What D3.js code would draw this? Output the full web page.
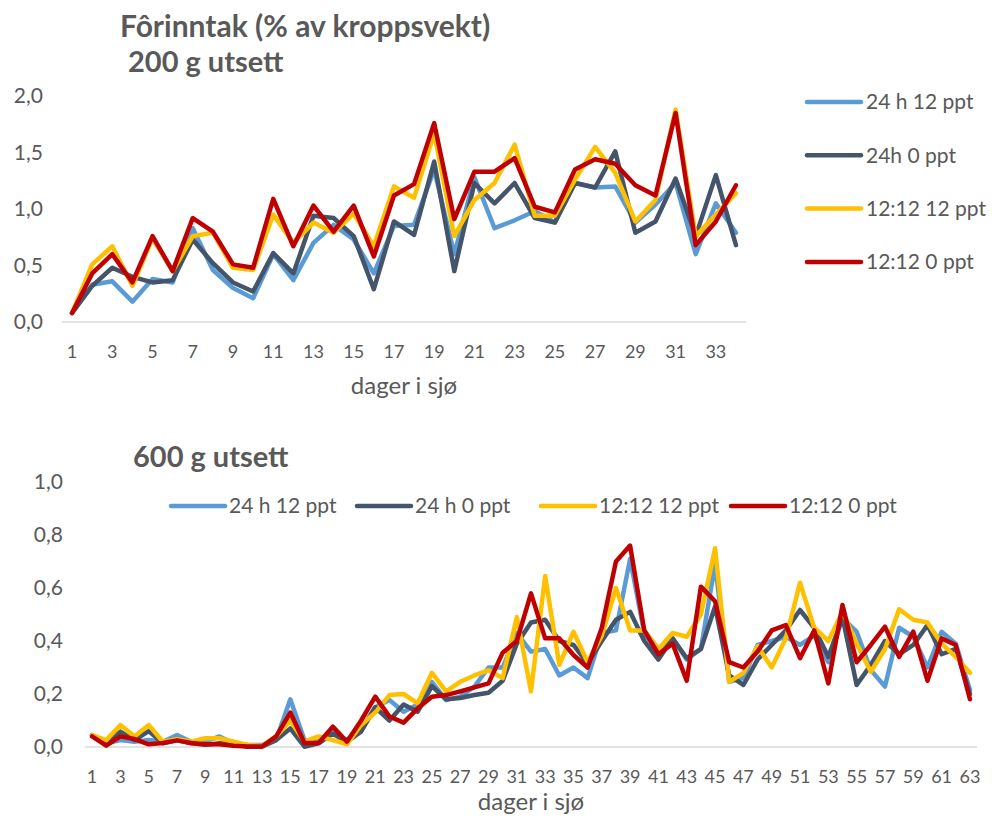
<!DOCTYPE html>
<html lang="no">
  <head>
    <meta charset="utf-8">
    <title>Fôrinntak</title>
    <script src="https://cdn.jsdelivr.net/npm/d3@7"></script>
    <style>
      body { margin: 0; background: #fff; }
      text { font-family: Lato, "Open Sans", sans-serif; fill: #595959; }
    </style>
  </head>
  <body>
    <script>

      // series names and colours
      var names = ["24 h 12 ppt", "24h 0 ppt", "12:12 12 ppt", "12:12 0 ppt"];
      var names600 = ["24 h 12 ppt", "24 h 0 ppt", "12:12 12 ppt", "12:12 0 ppt"];
      var colors = ["#5b9bd5", "#44546a", "#ffc000", "#c00000"];

      // 200 g utsett, days 1-34
      var blue200 = [0.08,0.33,0.36,0.18,0.38,0.35,0.83,0.46,0.30,0.21,0.60,0.37,0.70,0.86,0.73,0.43,0.85,
                     0.86,1.35,0.60,1.28,0.83,0.90,0.98,0.88,1.23,1.19,1.20,0.88,1.04,1.23,0.60,1.05,0.79];
      var dark200 = [0.08,0.32,0.48,0.40,0.35,0.37,0.73,0.52,0.35,0.27,0.61,0.43,0.94,0.92,0.76,0.29,0.89,
                     0.77,1.42,0.45,1.23,1.05,1.23,0.92,0.88,1.23,1.19,1.51,0.79,0.89,1.27,0.76,1.30,0.68];
      var yellow200 = [0.08,0.51,0.67,0.32,0.74,0.45,0.76,0.79,0.48,0.46,0.95,0.70,0.88,0.79,0.96,0.67,1.20,
                       1.10,1.67,0.76,1.08,1.23,1.57,0.94,0.94,1.26,1.55,1.32,0.89,1.08,1.88,0.76,0.95,1.14];
      var red200 = [0.08,0.43,0.60,0.35,0.76,0.45,0.92,0.80,0.51,0.48,1.09,0.67,1.03,0.80,1.03,0.58,1.12,
                    1.22,1.76,0.91,1.33,1.33,1.45,1.02,0.97,1.35,1.44,1.40,1.21,1.12,1.85,0.68,0.89,1.21];

      // 600 g utsett, days 1-63
      var blue600 = [0.045,0.014,0.026,0.02,0.026,0.02,0.045,0.02,0.02,0.04,0.014,0.008,0.008,0.026,0.18,0.026,0.02,0.058,0.026,0.07,
                     0.15,0.177,0.133,0.16,0.246,0.177,0.19,0.228,0.30,0.30,0.43,0.36,0.37,0.27,0.30,0.26,0.43,0.44,0.71,0.43,
                     0.35,0.41,0.33,0.37,0.69,0.246,0.26,0.385,0.40,0.416,0.385,0.42,0.32,0.486,0.435,0.29,0.228,0.45,0.416,0.30,
                     0.435,0.39,0.215];
      var dark600 = [0.045,0.014,0.058,0.026,0.06,0.014,0.026,0.014,0.008,0.014,0.011,0.001,0.001,0.026,0.07,0.001,0.014,0.05,0.02,0.058,
                     0.15,0.10,0.16,0.133,0.23,0.18,0.185,0.196,0.205,0.25,0.39,0.47,0.48,0.40,0.385,0.315,0.40,0.48,0.51,0.40,
                     0.33,0.41,0.335,0.37,0.53,0.27,0.234,0.33,0.385,0.44,0.517,0.45,0.34,0.49,0.234,0.31,0.40,0.35,0.385,0.46,
                     0.35,0.37,0.20];
      var yellow600 = [0.045,0.026,0.083,0.04,0.083,0.02,0.029,0.02,0.033,0.033,0.02,0.008,0.004,0.04,0.10,0.02,0.04,0.026,0.01,0.083,
                       0.13,0.196,0.20,0.165,0.28,0.21,0.246,0.27,0.29,0.26,0.49,0.21,0.645,0.31,0.435,0.32,0.42,0.60,0.44,0.44,
                       0.37,0.43,0.416,0.50,0.75,0.246,0.28,0.38,0.30,0.41,0.62,0.45,0.40,0.51,0.39,0.284,0.37,0.52,0.48,0.47,
                       0.39,0.34,0.28];
      var red600 = [0.04,0.005,0.04,0.03,0.01,0.015,0.025,0.015,0.01,0.01,0.005,0.002,0.002,0.04,0.13,0.015,0.015,0.077,0.02,0.10,
                    0.19,0.115,0.092,0.146,0.19,0.196,0.21,0.225,0.24,0.356,0.40,0.58,0.41,0.41,0.347,0.30,0.45,0.70,0.76,0.44,
                    0.35,0.39,0.25,0.605,0.55,0.32,0.30,0.36,0.44,0.46,0.335,0.44,0.24,0.536,0.32,0.385,0.454,0.34,0.435,0.25,
                    0.41,0.385,0.18];

      var ticks200 = [0, 0.5, 1.0, 1.5, 2.0];
      var ticks600 = [0, 0.2, 0.4, 0.6, 0.8, 1.0];

      var days200 = d3.range(1, 35);
      var days600 = d3.range(1, 64);

      var fmt = d3.formatLocale({decimal: ",", thousands: " ", grouping: [3], currency: ["", " kr"]}).format(".1f");

      var svg = d3.select("body").append("svg")
                  .attr("width", 992)
                  .attr("height", 820);

      function drawPanel(o) {
        var x = d3.scalePoint().domain(o.days).range([o.x0, o.x1]).padding(0.5);
        var y = d3.scaleLinear().domain([0, o.ymax]).range([o.yb, o.yt]);
        var g = svg.append("g");

        g.append("line")
          .attr("x1", o.x0).attr("x2", o.x1)
          .attr("y1", y(0)).attr("y2", y(0))
          .attr("stroke", "#d9d9d9").attr("stroke-width", 1.5);

        g.selectAll(".ytick").data(o.ticks).enter().append("text")
          .attr("x", o.ylabX)
          .attr("y", function(d) { return y(d); })
          .attr("dy", "0.35em")
          .attr("text-anchor", "end")
          .style("font-size", "21px")
          .text(function(d) { return fmt(d); });

        g.selectAll(".xtick").data(o.days.filter(function(d) { return d % 2 == 1; })).enter().append("text")
          .attr("x", function(d) { return x(d); })
          .attr("y", o.xlabY)
          .attr("text-anchor", "middle")
          .style("font-size", "18px")
          .text(function(d) { return d; });

        g.append("text")
          .attr("x", (o.x0 + o.x1) / 2).attr("y", o.titleY)
          .attr("text-anchor", "middle")
          .style("font-size", "24px")
          .text("dager i sjø");

        var line = d3.line()
          .x(function(d, i) { return x(o.days[i]); })
          .y(function(d) { return y(d); });

        o.series.forEach(function(s, i) {
          g.append("path")
            .attr("d", line(s))
            .attr("fill", "none")
            .attr("stroke", colors[i])
            .attr("stroke-width", 4.5)
            .attr("stroke-linejoin", "round")
            .attr("stroke-linecap", "round");
        });
      }

      drawPanel({days: days200, x0: 62, x1: 746, yb: 322, yt: 96, ymax: 2.0, ticks: ticks200,
                 ylabX: 43, xlabY: 358, titleY: 394,
                 series: [blue200, dark200, yellow200, red200]});

      drawPanel({days: days600, x0: 85, x1: 977, yb: 747, yt: 482, ymax: 1.0, ticks: ticks600,
                 ylabX: 63, xlabY: 783, titleY: 810,
                 series: [blue600, dark600, yellow600, red600]});

      // titles
      svg.append("text").attr("x", 120).attr("y", 37)
        .style("font-size", "30px").style("font-weight", "bold")
        .text("Fôrinntak (% av kroppsvekt)");
      svg.append("text").attr("x", 128).attr("y", 72)
        .style("font-size", "29px").style("font-weight", "bold")
        .text("200 g utsett");
      svg.append("text").attr("x", 133).attr("y", 467)
        .style("font-size", "29px").style("font-weight", "bold")
        .text("600 g utsett");

      // legend top (vertical)
      var leg1 = svg.selectAll(".leg1").data(names).enter().append("g")
        .attr("transform", function(d, i) { return "translate(807," + (102 + i * 53.3) + ")"; });
      leg1.append("line").attr("x1", 0).attr("x2", 54)
        .attr("stroke", function(d, i) { return colors[i]; })
        .attr("stroke-width", 4.5).attr("stroke-linecap", "round");
      leg1.append("text").attr("x", 59).attr("dy", "0.35em")
        .style("font-size", "21px")
        .text(function(d) { return d; });

      // legend bottom (horizontal)
      var legX = [171, 357, 541, 731];
      var leg2 = svg.selectAll(".leg2").data(names600).enter().append("g")
        .attr("transform", function(d, i) { return "translate(" + legX[i] + ",506)"; });
      leg2.append("line").attr("x1", 0).attr("x2", 54)
        .attr("stroke", function(d, i) { return colors[i]; })
        .attr("stroke-width", 4.5).attr("stroke-linecap", "round");
      leg2.append("text").attr("x", 58).attr("dy", "0.35em")
        .style("font-size", "21px")
        .text(function(d) { return d; });

    </script>
  </body>
</html>
